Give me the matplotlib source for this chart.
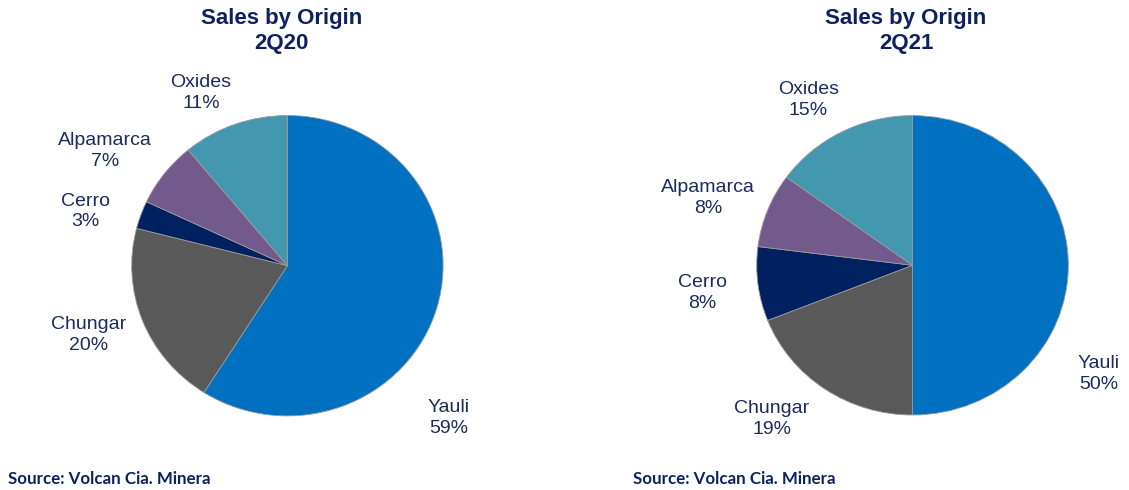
import matplotlib
matplotlib.use("Agg")
import matplotlib.pyplot as plt

# ---- data ----
categories = ["Yauli", "Chungar", "Cerro", "Alpamarca", "Oxides"]
share_2q20 = [59, 20, 3, 7, 11]
share_2q21 = [50, 19, 8, 8, 15]
titles = ["Sales by Origin\n2Q20", "Sales by Origin\n2Q21"]
source_text = "Source: Volcan Cia. Minera"

# ---- styles / layout ----
colors = ["#0070C0", "#595959", "#002060", "#725A8C", "#4398B0"]
title_color = "#0B2161"
label_color = "#1C2B5E"

# label positions (in pie radius units) for each pie
label_pos = [
    [(1.038, -1.014), (-1.275, -0.461), (-1.298, 0.360), (-1.171, 0.764), (-0.556, 1.150)],
    [(1.195, -0.726), (-0.902, -1.027), (-1.348, -0.185), (-1.313, 0.450), (-0.668, 1.104)],
]
axes_rects = [
    [131.7 / 1129, 74.1 / 490, 311.4 / 1129, 300.4 / 490],
    [756.7 / 1129, 75.0 / 490, 311.6 / 1129, 299.4 / 490],
]
title_x = [281.5 / 1129, 906 / 1129]
source_x = [7.5 / 1129, 633 / 1129]

fig = plt.figure(figsize=(11.29, 4.90), dpi=100)
fig.patch.set_facecolor("white")

for i, vals in enumerate([share_2q20, share_2q21]):
    ax = fig.add_axes(axes_rects[i])
    ax.pie(vals, colors=colors, startangle=90, counterclock=False, radius=1,
           wedgeprops=dict(edgecolor="#9A9A9A", linewidth=0.6))
    ax.set_aspect("auto")
    ax.set_xlim(-1, 1)
    ax.set_ylim(-1, 1)
    ax.axis("off")
    for cat, v, (lx, ly) in zip(categories, vals, label_pos[i]):
        ax.text(lx, ly, f"{cat}\n{v}%", ha="center", va="center",
                fontsize=14, family="Liberation Sans", color=label_color,
                linespacing=1.25, clip_on=False)
    fig.text(title_x[i], 1 - 8 / 490, titles[i], ha="center", va="top",
             fontsize=16, fontweight="bold", family="Liberation Sans",
             color=title_color, linespacing=1.25)
    fig.text(source_x[i], 6 / 490, source_text, ha="left", va="baseline",
             fontsize=12.2, fontweight="bold", family="Lato", color=title_color)

fig.savefig("out.png", dpi=100, facecolor="white")
